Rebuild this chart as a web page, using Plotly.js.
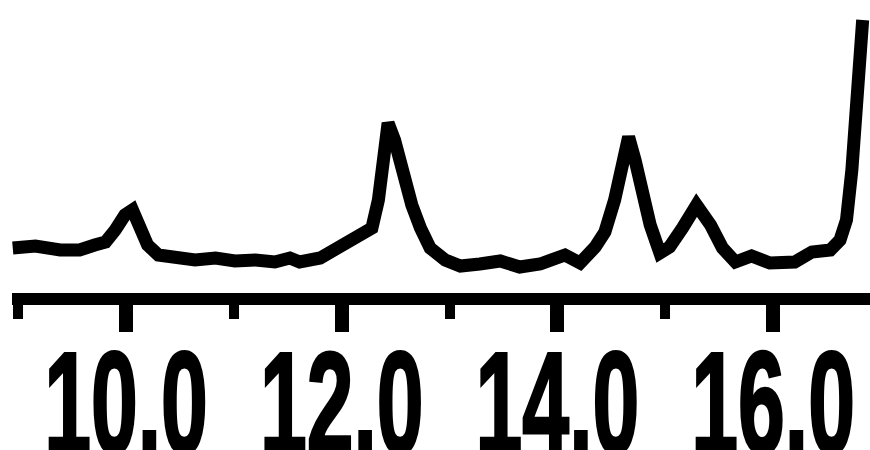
<!DOCTYPE html>
<html>
<head>
<meta charset="utf-8">
<script src="https://cdn.plot.ly/plotly-3.0.1.min.js"></script>
<style>
html,body{margin:0;padding:0;background:#fff;}
#chart{width:870px;height:450px;}
</style>
</head>
<body>
<div id="chart"></div>
<script>
const xValues = [8.95,9.16,9.39,9.57,9.71,9.81,9.90,9.99,10.06,10.13,10.20,10.30,10.45,10.64,10.83,11.01,11.20,11.38,11.52,11.61,11.80,11.98,12.17,12.28,12.34,12.38,12.43,12.49,12.54,12.59,12.65,12.73,12.82,12.96,13.10,13.28,13.47,13.65,13.84,14.07,14.21,14.35,14.44,14.53,14.60,14.66,14.72,14.78,14.86,14.95,15.04,15.16,15.29,15.42,15.53,15.65,15.80,15.97,16.20,16.36,16.53,16.62,16.68,16.73,16.77,16.81,16.83];
const intensity = [45,47,43,43,48,51,63,78,83,65,48,38,35,33,35,32,33,31,35,31,35,46,56,65,93,143,170,153,128,108,88,65,45,33,27,29,32,26,29,38,30,46,61,93,133,156,133,98,68,40,46,65,88,68,45,31,37,30,31,41,43,53,73,123,183,233,273];
const tickValues = [10, 12, 14, 16];
const tickLabels = ["10.0", "12.0", "14.0", "16.0"];

const trace = {
  x: xValues, y: intensity, type: 'scatter', mode: 'lines',
  line: {color: '#000', width: 13, shape: 'linear'},
  hoverinfo: 'skip'
};
const layout = {
  width: 870, height: 450,
  margin: {l: 12, r: 0, t: 0, b: 157, pad: 0},
  paper_bgcolor: '#fff', plot_bgcolor: '#fff',
  showlegend: false,
  xaxis: {
    range: [8.943, 16.898],
    showgrid: false, zeroline: false,
    showline: true, linecolor: '#000', linewidth: 12,
    ticks: 'outside', ticklen: 27, tickwidth: 14, tickcolor: '#000',
    tickmode: 'array', tickvals: tickValues, ticktext: tickLabels,
    tickangle: 0,
    ticklabeloverflow: 'allow',
    tickfont: {family: 'Liberation Sans, Arial, sans-serif', size: 145, color: '#000', weight: 'bold'},
    minor: {dtick: 1, tick0: 9, ticks: 'outside', ticklen: 14, tickwidth: 10, tickcolor: '#000', showgrid: false},
    fixedrange: true
  },
  yaxis: {
    range: [0, 293], visible: false, showgrid: false, zeroline: false, fixedrange: true
  }
};
Plotly.newPlot('chart', [trace], layout, {staticPlot: true, displayModeBar: false}).then(function(){
  document.querySelectorAll('.xtick text').forEach(function(t){
    const tr = t.getAttribute('transform') || '';
    t.setAttribute('transform', tr + ' translate(0,-53) scale(0.58,1)');
    t.setAttribute('stroke', '#000');
    t.setAttribute('stroke-width', '3');
  });
});
</script>
</body>
</html>
